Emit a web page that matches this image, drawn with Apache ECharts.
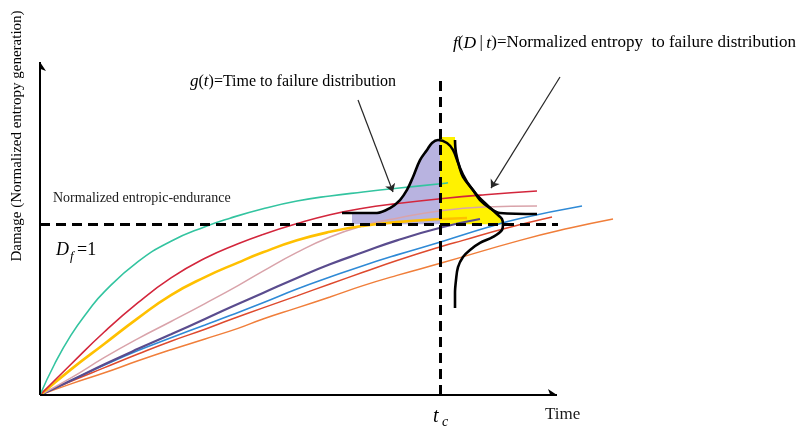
<!DOCTYPE html>
<html>
<head>
<meta charset="utf-8">
<script src="https://cdn.jsdelivr.net/npm/echarts@6/dist/echarts.min.js"></script>
<style>
  html, body { margin: 0; padding: 0; background: #ffffff; }
  #chart { width: 803px; height: 429px; }
</style>
</head>
<body>
<div id="chart"></div>
<script>
// Damage paths: [time, normalized damage]
const tealPath   = [[0,0],[0.29,0.18],[0.62,0.35],[0.96,0.49],[1.29,0.605],[1.96,0.78],[2.62,0.90],[3.30,0.985],[3.80,1.035],[4.46,1.09],[5.14,1.135],[5.80,1.165],[6.46,1.188],[7.14,1.21],[8.06,1.238],[8.16,1.242]];
const redPath    = [[0,0],[0.62,0.18],[1.29,0.37],[1.96,0.54],[2.62,0.685],[3.30,0.80],[3.96,0.885],[4.46,0.94],[5.14,1.003],[5.80,1.055],[6.46,1.093],[7.14,1.12],[8.06,1.15],[8.90,1.172],[9.94,1.194]];
const yellowPath = [[0,0],[0.62,0.15],[1.29,0.30],[1.96,0.45],[2.62,0.585],[3.30,0.69],[3.96,0.775],[4.46,0.835],[5.14,0.905],[5.80,0.955],[6.46,0.99],[7.14,1.012],[8.06,1.03],[8.54,1.036]];
const pinkPath   = [[0,0],[0.62,0.10],[1.29,0.22],[1.96,0.33],[2.62,0.43],[3.30,0.535],[3.96,0.64],[4.46,0.725],[5.14,0.835],[5.80,0.925],[6.46,0.99],[7.14,1.035],[8.06,1.08],[8.90,1.10],[9.94,1.106]];
const purplePath = [[0,0],[0.62,0.085],[1.29,0.18],[1.96,0.27],[2.62,0.355],[3.30,0.445],[3.80,0.512],[4.46,0.597],[5.14,0.685],[5.80,0.765],[6.46,0.835],[7.14,0.905],[8.06,0.983],[8.80,1.03]];
const bluePath   = [[0,0],[0.62,0.085],[1.29,0.175],[1.96,0.26],[2.62,0.335],[3.30,0.41],[3.80,0.465],[4.46,0.54],[5.14,0.62],[5.80,0.69],[6.46,0.757],[7.14,0.82],[8.06,0.90],[8.94,0.98],[9.60,1.033],[10.84,1.106]];
const red2Path   = [[0,0],[0.62,0.08],[1.29,0.16],[1.96,0.24],[2.62,0.315],[3.30,0.385],[3.80,0.44],[4.46,0.51],[5.14,0.58],[5.80,0.65],[6.46,0.718],[7.14,0.787],[8.06,0.872],[8.46,0.905],[9.26,0.972],[10.24,1.042]];
const orangePath = [[0,0],[0.62,0.065],[1.29,0.13],[1.96,0.20],[2.62,0.265],[3.30,0.328],[3.96,0.39],[4.46,0.445],[5.14,0.51],[5.80,0.574],[6.46,0.64],[7.14,0.70],[8.06,0.775],[9.60,0.905],[10.60,0.977],[11.46,1.03]];

// Time-to-failure density g(t), drawn along the time axis
const gCurve = [[6.04,1.065],[6.74,1.065],[7.00,1.094],[7.20,1.141],[7.34,1.20],[7.46,1.276],[7.60,1.375],[7.74,1.434],[7.84,1.475],[7.96,1.492],[8.14,1.475],[8.26,1.434],[8.36,1.36],[8.46,1.276],[8.66,1.20],[8.80,1.141],[9.00,1.094],[9.20,1.065],[9.94,1.059]];
// Entropy-to-failure density f(D|t), drawn along the damage axis at t = tc
const fCurve = [[8.30,0.509],[8.30,0.597],[8.32,0.673],[8.36,0.749],[8.46,0.808],[8.60,0.849],[8.80,0.890],[9.06,0.925],[9.24,0.966],[9.26,1.0],[9.24,1.03],[9.16,1.053],[8.94,1.112],[8.74,1.17],[8.54,1.247],[8.40,1.328],[8.32,1.416],[8.30,1.492]];

// Shaded regions
const gShade = [[6.24,1.0],[6.24,1.065],[6.74,1.065],[7.00,1.094],[7.20,1.141],[7.34,1.20],[7.46,1.276],[7.60,1.375],[7.74,1.434],[7.84,1.475],[7.96,1.492],[8.0,1.49],[8.0,1.0]];
const fShade = [[8.0,1.0],[8.0,1.51],[8.30,1.51],[8.30,1.492],[8.32,1.416],[8.40,1.328],[8.54,1.247],[8.74,1.17],[8.94,1.112],[9.16,1.053],[9.24,1.03],[9.26,1.0]];

// Reference levels
const failureDamage = 1;      // D_f = 1
const criticalTime = 8;       // t_c
const xAxisEnd = 10.34;
const yAxisEnd = 1.949;
const thresholdEnd = 10.36;
const tcLineTop = 1.84;

// Pointer arrows from the annotations
const gPointer = [[6.36,1.726],[7.06,1.188]];
const fPointer = [[10.40,1.861],[9.02,1.211]];

const serif = '"Liberation Serif", "Times New Roman", serif';

const paths = [
  { data: orangePath, color: '#F07E3A', width: 1.5 },
  { data: red2Path,   color: '#DE4A2E', width: 1.5 },
  { data: bluePath,   color: '#2F8AD6', width: 1.6 },
  { data: purplePath, color: '#5A4C8E', width: 2.2 },
  { data: pinkPath,   color: '#D9A3AA', width: 1.5 },
  { data: yellowPath, color: '#FFC000', width: 2.6 },
  { data: redPath,    color: '#D3263C', width: 1.6 },
  { data: tealPath,   color: '#33C4A0', width: 1.6 }
];

function shadeSeries(points, color, z) {
  return {
    type: 'custom',
    coordinateSystem: 'cartesian2d',
    silent: true,
    z: z,
    data: [[criticalTime, failureDamage]],
    renderItem: function (params, api) {
      return {
        type: 'polygon',
        shape: { points: points.map(function (p) { return api.coord(p); }) },
        style: { fill: color }
      };
    }
  };
}

const series = [
  shadeSeries(gShade, '#B8B3E0', 1),
  shadeSeries(fShade, '#FFF200', 1)
];

paths.forEach(function (p) {
  series.push({
    type: 'line',
    data: p.data,
    smooth: 0.5,
    showSymbol: false,
    silent: true,
    z: 3,
    lineStyle: { color: p.color, width: p.width }
  });
});

[gCurve, fCurve].forEach(function (c) {
  series.push({
    type: 'line',
    data: c,
    smooth: 0.35,
    showSymbol: false,
    silent: true,
    z: 5,
    lineStyle: { color: '#000000', width: 2.6 }
  });
});

// Dashed D_f and t_c reference lines
series.push({
  type: 'lines',
  coordinateSystem: 'cartesian2d',
  silent: true,
  z: 6,
  symbol: 'none',
  lineStyle: { color: '#000000', width: 3, type: [10, 6], opacity: 1, curveness: 0 },
  data: [
    { coords: [[0, failureDamage], [thresholdEnd, failureDamage]] },
    { coords: [[criticalTime, 0], [criticalTime, tcLineTop]] }
  ]
});

// Axes with arrow heads
series.push({
  type: 'lines',
  coordinateSystem: 'cartesian2d',
  silent: true,
  z: 7,
  symbol: ['none', 'arrow'],
  symbolSize: [0, 9],
  lineStyle: { color: '#000000', width: 2, opacity: 1, curveness: 0 },
  data: [
    { coords: [[0, 0], [xAxisEnd, 0]] },
    { coords: [[0, 0], [0, yAxisEnd]] }
  ]
});

// Annotation pointers
series.push({
  type: 'lines',
  coordinateSystem: 'cartesian2d',
  silent: true,
  z: 7,
  symbol: ['none', 'arrow'],
  symbolSize: [0, 8],
  lineStyle: { color: '#262626', width: 1.2, opacity: 1, curveness: 0 },
  data: [ { coords: gPointer }, { coords: fPointer } ]
});

const chart = echarts.init(document.getElementById('chart'), null, { renderer: 'canvas' });

chart.setOption({
  animation: false,
  backgroundColor: '#ffffff',
  grid: { left: 40, right: 13, top: 2, bottom: 34 },
  xAxis: {
    type: 'value', min: 0, max: 15,
    axisLine: { show: false }, axisTick: { show: false },
    axisLabel: { show: false }, splitLine: { show: false }
  },
  yAxis: {
    type: 'value', min: 0, max: 2.3,
    axisLine: { show: false }, axisTick: { show: false },
    axisLabel: { show: false }, splitLine: { show: false }
  },
  graphic: [
    {
      type: 'text', x: 17, y: 136, rotation: Math.PI / 2,
      style: { text: 'Damage (Normalized entropy generation)', font: '15px ' + serif, fill: '#000', align: 'center', verticalAlign: 'middle' }
    },
    {
      type: 'text', x: 53, y: 198,
      style: { text: 'Normalized entropic-endurance', font: '14px ' + serif, fill: '#1a1a1a', align: 'left', verticalAlign: 'middle' }
    },
    {
      type: 'text', x: 56, y: 250,
      style: { text: 'D', font: 'italic 18px ' + serif, fill: '#000', align: 'left', verticalAlign: 'middle' }
    },
    {
      type: 'text', x: 70, y: 257,
      style: { text: 'f', font: 'italic 13px ' + serif, fill: '#000', align: 'left', verticalAlign: 'middle' }
    },
    {
      type: 'text', x: 77, y: 250,
      style: { text: '=1', font: '18px ' + serif, fill: '#000', align: 'left', verticalAlign: 'middle' }
    },
    {
      type: 'text', x: 190, y: 82,
      style: {
        text: '{i|g}{n|(}{i|t}{n|)=Time to failure distribution}',
        align: 'left', verticalAlign: 'middle',
        rich: {
          i: { font: 'italic 17px ' + serif, fill: '#000' },
          n: { font: '16px ' + serif, fill: '#000' }
        }
      }
    },
    {
      type: 'text', x: 453, y: 43,
      style: {
        text: '{i|f}{n|(}{i|D}{n|\u2009|\u2009}{i|t}{n|)=Normalized entropy  to failure distribution}',
        align: 'left', verticalAlign: 'middle',
        rich: {
          i: { font: 'italic 17.5px ' + serif, fill: '#000' },
          n: { font: '17px ' + serif, fill: '#000' }
        }
      }
    },
    {
      type: 'text', x: 433, y: 417,
      style: { text: 't', font: 'italic 20px ' + serif, fill: '#000', align: 'left', verticalAlign: 'middle' }
    },
    {
      type: 'text', x: 442, y: 422,
      style: { text: 'c', font: 'italic 14px ' + serif, fill: '#000', align: 'left', verticalAlign: 'middle' }
    },
    {
      type: 'text', x: 545, y: 415,
      style: { text: 'Time', font: '17px ' + serif, fill: '#1a1a1a', align: 'left', verticalAlign: 'middle' }
    }
  ],
  series: series
});
</script>
</body>
</html>
